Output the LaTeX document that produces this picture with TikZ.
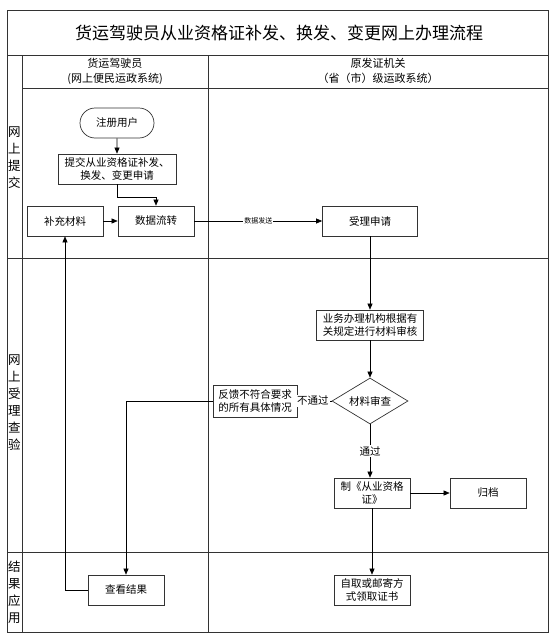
\documentclass[tikz,border=0pt]{standalone}
\usepackage{fontspec}
\setmainfont{Noto Sans CJK SC}
\usetikzlibrary{arrows.meta,shapes.geometric,shapes.misc}
\begin{document}
\begin{tikzpicture}[x=1pt,y=-1pt,
  box/.style={draw=black!80, line width=0.7pt, minimum width=76pt, minimum height=30pt, inner sep=1pt,
    font=\fontsize{10.5}{13}\selectfont, align=center, fill=white},
  arr/.style={-{Triangle[length=6pt,width=5pt]}, line width=0.6pt},
  lane/.style={line width=0.8pt, draw=black!80},
  lab/.style={font=\fontsize{10.5}{13}\selectfont, fill=white, inner sep=1pt},
  lanelab/.style={font=\fontsize{12.5}{17}\selectfont, align=center, inner sep=0pt},
  head/.style={font=\fontsize{11}{15}\selectfont, align=center, inner sep=0pt}]
\useasboundingbox (0,0) rectangle (556,637);
% frame
\draw[lane] (7,10) rectangle (548,632);
\draw[lane] (7,55) -- (548,55);
\draw[lane] (22,55) -- (22,632);
\draw[lane] (22,88) -- (548,88);
\draw[lane] (208,55) -- (208,632);
\draw[lane] (7,258) -- (548,258);
\draw[lane] (7,552) -- (548,552);
% title and headers
\node[font=\fontsize{17}{20}\selectfont] (title) at (279,33) {货运驾驶员从业资格证补发、换发、变更网上办理流程};
\node[head] (h1) at (115,71) {货运驾驶员\\(网上便民运政系统)};
\node[head] (h2) at (378,71) {原发证机关\\（省（市）级运政系统）};
\node[lanelab] (l1) at (14.5,158) {网\\上\\提\\交};
\node[lanelab] (l2) at (14.5,403) {网\\上\\受\\理\\查\\验};
\node[lanelab] (l3) at (14.5,592) {结\\果\\应\\用};
% nodes
\node[box, rounded rectangle, minimum width=76pt] (reg) at (117,123) {注册用户};
\node[box, minimum width=118pt] (tj) at (117,169) {提交从业资格证补发、\\换发、变更申请};
\node[box] (bc) at (65,221) {补充材料};
\node[box] (sj) at (156,221) {数据流转};
\node[box, minimum width=95pt] (sl) at (370,221) {受理申请};
\node[box, minimum width=107pt] (sh) at (370,325) {业务办理机构根据有\\关规定进行材料审核};
\node[box, diamond, minimum width=76pt, minimum height=46pt, inner sep=0pt, aspect=1.65] (sc) at (370,401) {材料审查};
\node[box, minimum width=84pt, minimum height=32pt] (fk) at (255,401) {反馈不符合要求\\的所有具体情况};
\node[box] (zz) at (372,493) {制《从业资格\\证》};
\node[box] (gd) at (488,493) {归档};
\node[box] (ck) at (126,590) {查看结果};
\node[box] (lq) at (372,590) {自取或邮寄方\\式领取证书};
% connectors
\draw[arr] (reg) -- (tj);
\draw[arr] (tj.south) -- ++(0,13) -| (sj.north);
\draw[arr] (bc) -- (sj);
\draw[arr] (sj) -- node[lab, font=\fontsize{7}{8}\selectfont] {数据发送} (sl);
\draw[arr] (sl) -- (sh);
\draw[arr] (sh) -- (sc);
\draw[arr] (sc.west) -- node[lab, pos=0.55] {不通过} (fk.east);
\draw[arr] (sc.south) -- node[lab] {通过} (sc.south |- zz.north);
\draw[arr] (zz) -- (gd);
\draw[arr] (zz.south -| lq.north) -- (lq.north);
\draw[arr] (fk.west) -| (ck.north);
\draw[arr] (ck.west) -| (bc.south);
\end{tikzpicture}
\end{document}
